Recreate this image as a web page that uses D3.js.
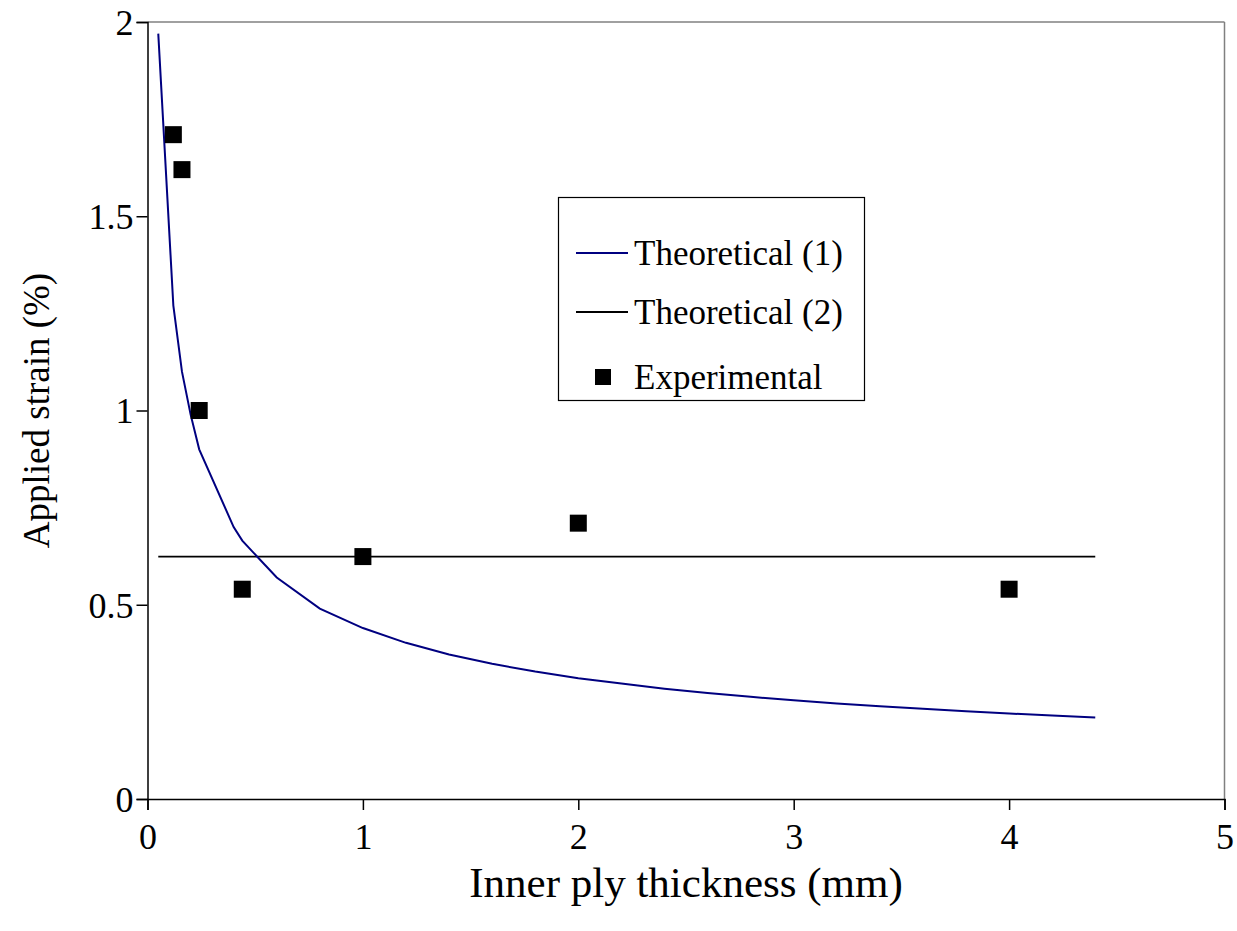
<!DOCTYPE html>
<html>
<head>
<meta charset="utf-8">
<script src="https://cdn.jsdelivr.net/npm/d3@7"></script>
<style>
  html, body { margin: 0; padding: 0; background: #fff; }
  text { font-family: "Liberation Serif", "Times New Roman", serif; fill: #000; }
</style>
</head>
<body>
<svg id="chart" width="1237" height="931"></svg>
<script>
// Theoretical (1): onset strain vs inner ply thickness
const theory1Thickness = [0.05, 0.12, 0.16, 0.2, 0.24, 0.4, 0.44, 0.6, 0.8, 1.0, 1.2, 1.4, 1.6, 1.8, 2.0, 2.2, 2.4, 2.6, 2.8, 3.0, 3.2, 3.4, 3.6, 3.8, 4.0, 4.2, 4.4];
const theory1Strain    = [1.97, 1.27, 1.10, 0.99, 0.90, 0.70, 0.665, 0.57, 0.49, 0.44, 0.402, 0.372, 0.348, 0.328, 0.311, 0.297, 0.284, 0.273, 0.263, 0.254, 0.246, 0.239, 0.232, 0.226, 0.22, 0.215, 0.21];

// Theoretical (2): constant strain
const theory2Thickness = [0.05, 4.4];
const theory2Strain    = [0.624, 0.624];

// Experimental results
const expThickness = [0.12, 0.16, 0.24, 0.44, 1.0, 2.0, 4.0];
const expStrain    = [1.71, 1.62, 1.00, 0.54, 0.624, 0.71, 0.54];

const xTicks = [0, 1, 2, 3, 4, 5];
const yTicks = [0, 0.5, 1, 1.5, 2];
const legendLabels = ["Theoretical (1)", "Theoretical (2)", "Experimental"];

const svg = d3.select("#chart");
const plotLeft = 147.5, plotRight = 1224.5, plotTop = 22, plotBottom = 799;
const serif = '"Liberation Serif", "Times New Roman", serif';

const x = d3.scaleLinear().domain([0, 5]).range([plotLeft, plotRight]);
const y = d3.scaleLinear().domain([0, 2]).range([plotBottom, plotTop]);

// Plot frame: grey top and right edges
svg.append("line").attr("x1", plotLeft).attr("x2", plotRight).attr("y1", plotTop).attr("y2", plotTop)
  .attr("stroke", "#808080").attr("stroke-width", 1.5);
svg.append("line").attr("x1", plotRight).attr("x2", plotRight).attr("y1", plotTop).attr("y2", plotBottom)
  .attr("stroke", "#808080").attr("stroke-width", 1.5);

// Axes
const fmtY = d => d === 0 ? "0" : String(d);
const yAxis = d3.axisLeft(y).tickValues(yTicks).tickFormat(fmtY).tickSize(11).tickPadding(3);
const xAxis = d3.axisBottom(x).tickValues(xTicks).tickFormat(d3.format("d")).tickSize(11).tickPadding(13);

const gy = svg.append("g").attr("transform", `translate(${plotLeft},0)`).call(yAxis);
const gx = svg.append("g").attr("transform", `translate(0,${plotBottom})`).call(xAxis);
[gx, gy].forEach(g => {
  g.attr("font-family", serif).attr("font-size", 36);
  g.select(".domain").attr("stroke", "#000").attr("stroke-width", 1.5);
  g.selectAll(".tick line").attr("stroke", "#000").attr("stroke-width", 1.5);
  g.selectAll(".tick text").attr("fill", "#000");
});
gy.selectAll(".tick text").attr("dy", "0.34em");

// Axis titles
svg.append("text").attr("x", 686).attr("y", 897)
  .attr("text-anchor", "middle").attr("font-family", serif).attr("font-size", 43)
  .text("Inner ply thickness (mm)");
svg.append("text").attr("transform", `translate(49,${(plotTop + plotBottom) / 2}) rotate(-90)`)
  .attr("text-anchor", "middle").attr("font-family", serif).attr("font-size", 37)
  .text("Applied strain (%)");

const line = d3.line().x(d => x(d[0])).y(d => y(d[1]));

// Theoretical (2)
svg.append("path").datum(d3.zip(theory2Thickness, theory2Strain))
  .attr("d", line).attr("fill", "none").attr("stroke", "#000").attr("stroke-width", 1.8);

// Theoretical (1)
svg.append("path").datum(d3.zip(theory1Thickness, theory1Strain))
  .attr("d", line).attr("fill", "none").attr("stroke", "#000080").attr("stroke-width", 2);

// Experimental squares
const sq = 17;
svg.append("g").selectAll("rect").data(d3.zip(expThickness, expStrain)).join("rect")
  .attr("x", d => x(d[0]) - sq / 2).attr("y", d => y(d[1]) - sq / 2)
  .attr("width", sq).attr("height", sq).attr("fill", "#000");

// Legend
const lg = svg.append("g");
lg.append("rect").attr("x", 558.5).attr("y", 197.5).attr("width", 306).attr("height", 203)
  .attr("fill", "#fff").attr("stroke", "#000").attr("stroke-width", 1.2);
const rowY = [253, 312, 377];
lg.append("line").attr("x1", 576).attr("x2", 628).attr("y1", rowY[0]).attr("y2", rowY[0])
  .attr("stroke", "#000080").attr("stroke-width", 2);
lg.append("line").attr("x1", 576).attr("x2", 628).attr("y1", rowY[1]).attr("y2", rowY[1])
  .attr("stroke", "#000").attr("stroke-width", 1.8);
lg.append("rect").attr("x", 603 - 8).attr("y", rowY[2] - 8).attr("width", 16).attr("height", 16)
  .attr("fill", "#000");
legendLabels.forEach((t, i) => {
  lg.append("text").attr("x", 634).attr("y", rowY[i]).attr("dy", "0.35em")
    .attr("font-family", serif).attr("font-size", 35).text(t);
});
</script>
</body>
</html>
